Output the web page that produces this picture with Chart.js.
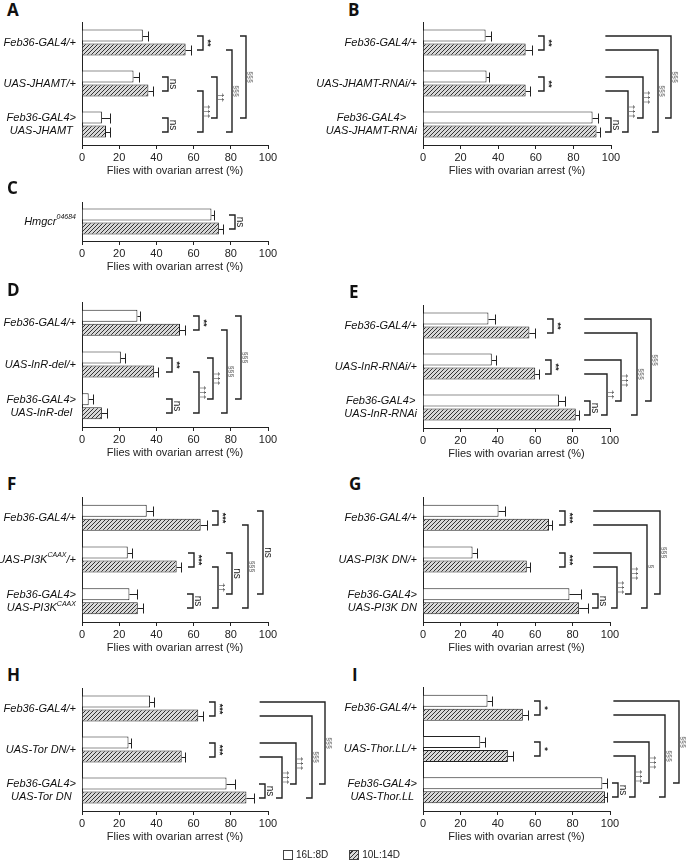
<!DOCTYPE html>
<html>
<head>
<meta charset="utf-8">
<script src="https://cdn.jsdelivr.net/npm/chart.js@4.4.1/dist/chart.umd.min.js"></script>
<style>
  body { margin: 0; background: #fff; width: 688px; height: 867px; position: relative; overflow: hidden; font-family: "Liberation Sans", Arial, sans-serif; }
  canvas { position: absolute; }
  .letter { position: absolute; font: bold 17px "Open Sans", "Liberation Sans", sans-serif; line-height: 17px; color: #111; }
  .legend { position: absolute; top: 849px; left: 283px; font-size: 10px; color: #222; display: flex; align-items: center; }
  .legend i { display: inline-block; width: 8px; height: 8px; border: 1px solid #444; margin-right: 3px; }
  .legend .hatch { background: repeating-linear-gradient(-45deg, #333 0 1px, #d8d8d8 1px 3px); }
</style>
</head>
<body>
<script>
const FONT = '"Liberation Sans", Arial, sans-serif';
const series = ['16L:8D', '10L:14D'];
const axisTitle = 'Flies with ovarian arrest (%)';
const xTicks = [0, 20, 40, 60, 80, 100];

// labels use ^...^ for superscript parts
const labelsA = [['Feb36-GAL4/+'], ['UAS-JHAMT/+'], ['Feb36-GAL4>', 'UAS-JHAMT']];
const longA = [32.7, 27.7, 10.7];
const longErrA = [3, 2.7, 4.1];
const shortA = [55.7, 35.7, 12.9];
const shortErrA = [2.9, 2.7, 2.3];

const labelsB = [['Feb36-GAL4/+'], ['UAS-JHAMT-RNAi/+'], ['Feb36-GAL4>', 'UAS-JHAMT-RNAi']];
const longB = [33.3, 33.8, 90.2];
const longErrB = [2.7, 1.2, 3];
const shortB = [54.6, 54.6, 92.3];
const shortErrB = [3.5, 2.2, 1.8];

const labelsC = [['Hmgcr^04684']];
const longC = [69.6];
const longErrC = [1.5];
const shortC = [73.6];
const shortErrC = [2.3];

const labelsD = [['Feb36-GAL4/+'], ['UAS-InR-del/+'], ['Feb36-GAL4>', 'UAS-InR-del']];
const longD = [29.8, 20.9, 3.6];
const longErrD = [1.5, 2, 2.3];
const shortD = [52.7, 38.8, 10.7];
const shortErrD = [2.7, 2.3, 2.7];

const labelsE = [['Feb36-GAL4/+'], ['UAS-InR-RNAi/+'], ['Feb36-GAL4>', 'UAS-InR-RNAi']];
const longE = [35, 36.8, 72.7];
const longErrE = [3.4, 2.2, 3.1];
const shortE = [56.9, 60, 81.7];
const shortErrE = [3, 2, 1.8];

const labelsF = [['Feb36-GAL4/+'], ['UAS-PI3K^CAAX^/+'], ['Feb36-GAL4>', 'UAS-PI3K^CAAX']];
const longF = [34.8, 24.6, 25.5];
const longErrF = [3.6, 2.5, 4];
const shortF = [63.8, 50.9, 30];
const shortErrF = [3.2, 2.1, 2.7];

const labelsG = [['Feb36-GAL4/+'], ['UAS-PI3K DN/+'], ['Feb36-GAL4>', 'UAS-PI3K DN']];
const longG = [40.4, 26.5, 78.3];
const longErrG = [3.2, 2.3, 6];
const shortG = [67.4, 55.5, 83.5];
const shortErrG = [1.8, 1.8, 5];

const labelsH = [['Feb36-GAL4/+'], ['UAS-Tor DN/+'], ['Feb36-GAL4>', 'UAS-Tor DN']];
const longH = [36.6, 25, 77.7];
const longErrH = [2.2, 1.2, 4.4];
const shortH = [62.5, 53.6, 88.4];
const shortErrH = [2.3, 1.8, 3.9];

const labelsI = [['Feb36-GAL4/+'], ['UAS-Thor.LL/+'], ['Feb36-GAL4>', 'UAS-Thor.LL']];
const longI = [34.5, 30.6, 95.9];
const longErrI = [2.3, 2.3, 2.3];
const shortI = [53.4, 45.4, 97.3];
const shortErrI = [2.6, 2.6, 0.9];

// significance: [group1, series1, group2, series2, x of bracket, start of upper arm (null = short), text]
const sigA = [[0,0,0,1,65,null,'**'],[1,0,1,1,46.4,null,'ns'],[2,0,2,1,46.4,null,'ns'],[1,1,2,1,65,null,'†††'],[1,0,2,0,72.7,null,'††'],[0,1,2,1,80.7,null,'§§§'],[0,0,2,0,88,null,'§§§']];
const sigB = [[0,0,0,1,64.4,null,'**'],[1,0,1,1,64.4,null,'**'],[2,0,2,1,100,null,'ns'],[1,1,2,1,109,97,'†††'],[1,0,2,0,116.8,97,'†††'],[0,1,2,1,124.9,97,'§§§'],[0,0,2,0,132,97,'§§§']];
const sigC = [[0,0,0,1,82.5,null,'ns']];
const sigD = [[0,0,0,1,62.9,null,'**'],[1,0,1,1,48.6,null,'**'],[2,0,2,1,48.6,null,'ns'],[1,1,2,1,62.9,null,'†††'],[1,0,2,0,70.2,null,'†††'],[0,1,2,1,78.2,null,'§§§'],[0,0,2,0,85.7,null,'§§§']];
const sigE = [[0,0,0,1,69.5,null,'**'],[1,0,1,1,68.6,null,'**'],[2,0,2,1,89.2,null,'ns'],[1,1,2,1,98.2,86.2,'††'],[1,0,2,0,105.7,86.2,'†††'],[0,1,2,1,114.4,86.2,'§§§'],[0,0,2,0,122.1,86.2,'§§§']];
const sigF = [[0,0,0,1,73.2,null,'***'],[1,0,1,1,60.4,null,'***'],[2,0,2,1,59.5,null,'ns'],[1,1,2,1,73.2,null,'††'],[1,0,2,0,80.7,null,'ns'],[0,1,2,1,89.3,null,'§§§'],[0,0,2,0,97.3,null,'ns']];
const sigG = [[0,0,0,1,76,null,'***'],[1,0,1,1,76,null,'***'],[2,0,2,1,93.8,null,'ns'],[1,1,2,1,103.6,91,'†††'],[1,0,2,0,111,91,'†††'],[0,1,2,1,119.6,91,'§'],[0,0,2,0,126.7,91,'§§§']];
const sigH = [[0,0,0,1,71.4,null,'***'],[1,0,1,1,71.4,null,'***'],[2,0,2,1,98.2,null,'ns'],[1,1,2,1,107.7,95.5,'†††'],[1,0,2,0,115.2,95.5,'†††'],[0,1,2,1,123.6,95.5,'§§§'],[0,0,2,0,130.9,95.5,'§§§']];
const sigI = [[0,0,0,1,62.6,null,'*'],[1,0,1,1,62.6,null,'*'],[2,0,2,1,104.4,null,'ns'],[1,1,2,1,113.3,101.8,'†††'],[1,0,2,0,121,101.8,'†††'],[0,1,2,1,129.4,101.8,'§§§'],[0,0,2,0,136.8,101.8,'§§§']];

// hatch fill for the 10L:14D bars
const hatch = (() => {
  const c = document.createElement('canvas');
  c.width = 4; c.height = 4;
  const g = c.getContext('2d');
  g.fillStyle = '#d8d8d8';
  g.fillRect(0, 0, 4, 4);
  g.fillStyle = '#333';
  for (let i = 0; i < 4; i++) g.fillRect(i, 3 - i, 1, 1);
  return g.createPattern(c, 'repeat');
})();

const LAB = 'italic 11px ' + FONT;
const SUP = 'italic 7px ' + FONT;

function parts(s) {
  return s.split('^').map((t, k) => ({ t, sup: k % 2 === 1 }));
}
function textW(ctx, s) {
  let w = 0;
  for (const p of parts(s)) { ctx.font = p.sup ? SUP : LAB; w += ctx.measureText(p.t).width; }
  return w;
}
function drawText(ctx, s, x, y) {
  let cx = x;
  for (const p of parts(s)) {
    ctx.font = p.sup ? SUP : LAB;
    ctx.fillText(p.t, cx, p.sup ? y - 4 : y);
    cx += ctx.measureText(p.t).width;
  }
}

const deco = {
  id: 'deco',
  afterDraw(chart, args, o) {
    const { ctx, chartArea } = chart;
    const x = chart.scales.x, y = chart.scales.y;
    ctx.save();
    ctx.fillStyle = '#111';
    ctx.textAlign = 'left';
    ctx.textBaseline = 'middle';
    // category labels
    o.labels.forEach((lines, i) => {
      const yc = y.getPixelForTick(i);
      const ws = lines.map(l => textW(ctx, l));
      const bw = Math.max(...ws);
      const cxm = chartArea.left - 6 - bw / 2;
      lines.forEach((l, k) => {
        const yy = yc + (k - (lines.length - 1) / 2) * 13;
        drawText(ctx, l, cxm - ws[k] / 2, yy);
      });
    });
    // error bars (positive side only)
    ctx.strokeStyle = '#222';
    ctx.lineWidth = 1;
    o.errs.forEach((errs, d) => {
      chart.getDatasetMeta(d).data.forEach((bar, i) => {
        const v = chart.data.datasets[d].data[i];
        const xe = Math.round(x.getPixelForValue(v + errs[i])) + 0.5;
        const yb = Math.round(bar.y) + 0.5;
        ctx.beginPath();
        ctx.moveTo(bar.x, yb);
        ctx.lineTo(xe, yb);
        ctx.moveTo(xe, yb - 5);
        ctx.lineTo(xe, yb + 5);
        ctx.stroke();
      });
    });
    // significance brackets
    ctx.lineWidth = 1.4;
    o.sig.forEach(([g1, s1, g2, s2, xv, arm, txt]) => {
      const y1 = Math.round(chart.getDatasetMeta(s1).data[g1].y);
      const y2 = Math.round(chart.getDatasetMeta(s2).data[g2].y);
      const xp = Math.round(x.getPixelForValue(xv));
      const xa = arm == null ? xp - 6 : x.getPixelForValue(arm);
      ctx.strokeStyle = '#222';
      ctx.beginPath();
      ctx.moveTo(xa, y1);
      ctx.lineTo(xp, y1);
      ctx.lineTo(xp, y2);
      ctx.lineTo(xp - 6, y2);
      ctx.stroke();
      let font = '10px ' + FONT, col = '#222';
      if (txt.includes('*')) font = 'bold 9px ' + FONT;
      else if (txt.includes('†')) { font = '8px ' + FONT; col = '#333'; }
      else if (txt.includes('§')) { font = '7px ' + FONT; col = '#555'; }
      ctx.save();
      ctx.translate(xp + 2, (y1 + y2) / 2);
      ctx.rotate(Math.PI / 2);
      ctx.font = font;
      ctx.fillStyle = col;
      ctx.textAlign = 'center';
      ctx.textBaseline = 'alphabetic';
      ctx.fillText(txt, 0, 0);
      ctx.restore();
    });
    ctx.restore();
  }
};

function panel(letter, lpos, box, labels, long, longErr, short, shortErr, sig) {
  const L = document.createElement('div');
  L.className = 'letter';
  L.textContent = letter;
  L.style.left = lpos[0] + 'px';
  L.style.top = (lpos[1] - 3) + 'px';
  document.body.appendChild(L);

  const cv = document.createElement('canvas');
  const w = box.w, h = box.h + 33;
  cv.width = w; cv.height = h;
  cv.style.width = w + 'px'; cv.style.height = h + 'px';
  cv.style.left = box.x + 'px';
  cv.style.top = box.top + 'px';
  document.body.appendChild(cv);

  const yW = box.axL - box.x;
  const padR = box.x + w - box.axR;
  const band = box.h / labels.length;

  new Chart(cv, {
    type: 'bar',
    data: {
      labels: labels.map(l => l.join(' ').replace(/\^/g, '')),
      datasets: [
        { label: series[0], data: long, backgroundColor: '#fff', borderColor: '#222', borderWidth: 1 },
        { label: series[1], data: short, backgroundColor: hatch, borderColor: '#222', borderWidth: 1 }
      ]
    },
    options: {
      indexAxis: 'y',
      responsive: false,
      animation: false,
      events: [],
      layout: { padding: { left: 0, right: padR, top: 0, bottom: 0 } },
      datasets: { bar: { categoryPercentage: 28 / band, barPercentage: 12 / 14 } },
      plugins: {
        legend: { display: false },
        tooltip: { enabled: false },
        deco: { labels, errs: [longErr, shortErr], sig }
      },
      scales: {
        x: {
          min: 0, max: 100,
          afterBuildTicks: s => { s.ticks = xTicks.map(v => ({ value: v })); },
          ticks: { font: { size: 11, family: FONT }, color: '#222', padding: 2, maxRotation: 0 },
          grid: { drawOnChartArea: false, drawTicks: true, tickLength: 4, color: '#222' },
          border: { color: '#222', width: 1 },
          title: { display: true, text: axisTitle, font: { size: 11, family: FONT }, color: '#222', padding: 0 },
          afterFit: s => { s.height = 33; }
        },
        y: {
          ticks: { display: false },
          grid: { drawOnChartArea: false, drawTicks: false },
          border: { color: '#222', width: 1 },
          afterFit: s => { s.width = yW; }
        }
      }
    },
    plugins: [deco]
  });
}

panel('A', [7, 4],   { x: 0,   w: 344, axL: 82,  axR: 268, top: 22,  h: 123 }, labelsA, longA, longErrA, shortA, shortErrA, sigA);
panel('B', [348, 4], { x: 300, w: 388, axL: 423, axR: 611, top: 22,  h: 123 }, labelsB, longB, longErrB, shortB, shortErrB, sigB);
panel('C', [7, 182], { x: 0,   w: 344, axL: 82,  axR: 268, top: 202, h: 39 },  labelsC, longC, longErrC, shortC, shortErrC, sigC);
panel('D', [7, 284], { x: 0,   w: 344, axL: 82,  axR: 268, top: 302, h: 125 }, labelsD, longD, longErrD, shortD, shortErrD, sigD);
panel('E', [349, 286], { x: 300, w: 388, axL: 423, axR: 610, top: 305, h: 123 }, labelsE, longE, longErrE, shortE, shortErrE, sigE);
panel('F', [7, 478], { x: 0,   w: 344, axL: 82,  axR: 268, top: 497, h: 125 }, labelsF, longF, longErrF, shortF, shortErrF, sigF);
panel('G', [349, 478], { x: 300, w: 388, axL: 423, axR: 610, top: 497, h: 125 }, labelsG, longG, longErrG, shortG, shortErrG, sigG);
panel('H', [7, 669], { x: 0,   w: 344, axL: 82,  axR: 268, top: 688, h: 123 }, labelsH, longH, longErrH, shortH, shortErrH, sigH);
panel('I', [352, 669], { x: 300, w: 388, axL: 423, axR: 610, top: 687, h: 124 }, labelsI, longI, longErrI, shortI, shortErrI, sigI);

const lg = document.createElement('div');
lg.className = 'legend';
lg.innerHTML = '<i></i><span style="margin-right:21px">' + series[0] + '</span><i class="hatch"></i><span>' + series[1] + '</span>';
document.body.appendChild(lg);
</script>
</body>
</html>
